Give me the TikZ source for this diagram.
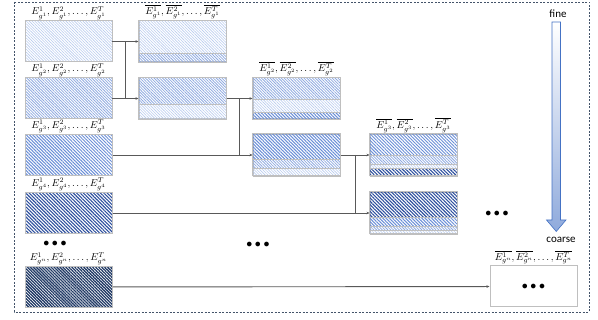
\documentclass[tikz,border=0pt]{standalone}
\usepackage{fontspec}
\newfontfamily\calibri{Carlito}
\usetikzlibrary{positioning,calc,arrows.meta,patterns.meta}
\definecolor{boxgray}{HTML}{BFBFBF}
\definecolor{frameblue}{HTML}{44546A}
\definecolor{lvA}{HTML}{B8CBEE}
\definecolor{lvB}{HTML}{8FAAE0}
\definecolor{lvC}{HTML}{6A8ED6}
\definecolor{lvD}{HTML}{2E509E}
\definecolor{lvN}{HTML}{1F3864}
\definecolor{arrowblue}{HTML}{8FAADC}
\definecolor{arrowedge}{HTML}{4472C4}
\definecolor{linkgray}{HTML}{595959}
\tikzset{
  box/.style={draw=boxgray,line width=1pt,minimum width=87pt,minimum height=41pt,inner sep=0pt},
  hA/.style={pattern={Lines[angle=-45,distance=2pt,line width=.6pt]},pattern color=lvA},
  hB/.style={pattern={Lines[angle=-45,distance=2pt,line width=.8pt]},pattern color=lvB},
  hC/.style={pattern={Lines[angle=-45,distance=2.3pt,line width=1pt]},pattern color=lvC},
  hD/.style={pattern={Lines[angle=-45,distance=2.4pt,line width=1.1pt]},pattern color=lvD},
  hN/.style={pattern={Lines[angle=-45,distance=2.1pt,line width=1.3pt]},pattern color=lvN},
  lab/.style={inner sep=1pt,font=\fontsize{10}{12}\selectfont},
  link/.style={draw=linkgray,line width=.9pt},
  arr/.style={link,-{Stealth[length=3pt,width=2.6pt]}},
  dots/.style={font=\large,inner sep=0pt},
  word/.style={font=\calibri\fontsize{11}{13}\selectfont,inner sep=0pt}
}
% fill a box node with horizontal bands: list of top/bottom(fraction)/style
\newcommand\bands[2]{%
  \foreach \t/\b/\s in {#2}
    \fill[\s] ($(#1.north west)!\t!(#1.south west)$) rectangle ($(#1.north east)!\b!(#1.south east)$);
  \foreach \t/\b/\s in {#2}
    \draw[boxgray,line width=.8pt] ($(#1.north west)!\b!(#1.south west)$) -- ($(#1.north east)!\b!(#1.south east)$);
  \draw[boxgray,line width=1pt] (#1.north west) rectangle (#1.south east);
}
\begin{document}
\begin{tikzpicture}[x=1pt,y=-1pt]
  \useasboundingbox (0,0) rectangle (598,320);
  \draw[frameblue,line width=.7pt,dash pattern=on 2pt off 1.5pt] (14,2) rectangle (589,312);
  % single groups
  \foreach \n/\y/\s in {g1/41.5/hA,g2/98.5/hB,g3/155/hC,g4/213/hD,gn/287/hN}
    \node[box,\s] (\n) at (68.5,\y) {};
  % merged groups
  \node[box] (m1) at (182.5,41.5) {};
  \node[box] (m2) at (182.5,98.5) {};
  \node[box] (m3) at (296.5,98.5) {};
  \node[box] (m4) at (296.5,155) {};
  \node[box] (m5) at (413.5,155) {};
  \node[box] (m6) at (413.5,213) {};
  \node[box,fill=white] (mn) at (533.5,286.5) {};
  \bands{m1}{0/.78/hA,.78/1/hB}
  \bands{m2}{0/.63/hB,.63/1/hA}
  \bands{m3}{0/.51/hB,.51/.83/hA,.83/1/hC}
  \bands{m4}{0/.61/hC,.61/.83/hB,.83/1/hA}
  \bands{m5}{0/.51/hC,.51/.72/hB,.72/.81/hA,.81/1/hD}
  \bands{m6}{0/.6/hD,.6/.82/hC,.82/.91/hB,.91/1/hA}
  % labels
  \foreach \n/\k in {g1/1,g2/2,g3/3,g4/4,gn/n}
    \node[lab,above=0pt of \n] (l\n) {$E^{1}_{g^{\k}}, E^{2}_{g^{\k}}, \ldots, E^{T}_{g^{\k}}$};
  \foreach \n/\k in {m1/1,m3/2,m5/3,mn/n}
    \node[lab,above=0pt of \n] (l\n) {$\overline{E^{1}_{g^{\k}}}, \overline{E^{2}_{g^{\k}}}, \ldots, \overline{E^{T}_{g^{\k}}}$};
  % connectors
  \draw[arr] (g1) -- (m1);
  \draw[arr] (g2) -- (m2);
  \draw[link] ($(g1.east)!.5!(m1.west)$) coordinate (j1) -- (j1 |- g2);
  \draw[arr] (m2) -- (m3);
  \draw[arr] (g3) -- (m4);
  \draw[link] ($(m2.east)!.5!(m3.west)$) coordinate (j2) -- (j2 |- g3);
  \draw[arr] (m4) -- (m5);
  \draw[arr] (g4) -- (m6);
  \draw[link] ($(m4.east)!.5!(m5.west)$) coordinate (j3) -- (j3 |- g4);
  \draw[arr] (gn) -- (mn);
  % ellipses
  \node[dots] (d1) at (55,244) {$\bullet\bullet\bullet$};
  \node[dots] (d2) at (258,244.5) {$\bullet\bullet\bullet$};
  \node[dots] (d3) at (497,214) {$\bullet\bullet\bullet$};
  \node[dots] (dn) at (mn) {$\bullet\bullet\bullet$};
  % fine to coarse
  \shade[top color=white,bottom color=arrowblue,draw=arrowedge,line width=.6pt]
    (552,22) -- (560.5,22) -- (560.5,220) -- (566,220) -- (556.25,231.5) -- (546.5,220) -- (552,220) -- cycle;
  \node[word] (fine) at (558,14) {fine};
  \node[word] (coarse) at (561,240) {coarse};
\end{tikzpicture}
\end{document}
